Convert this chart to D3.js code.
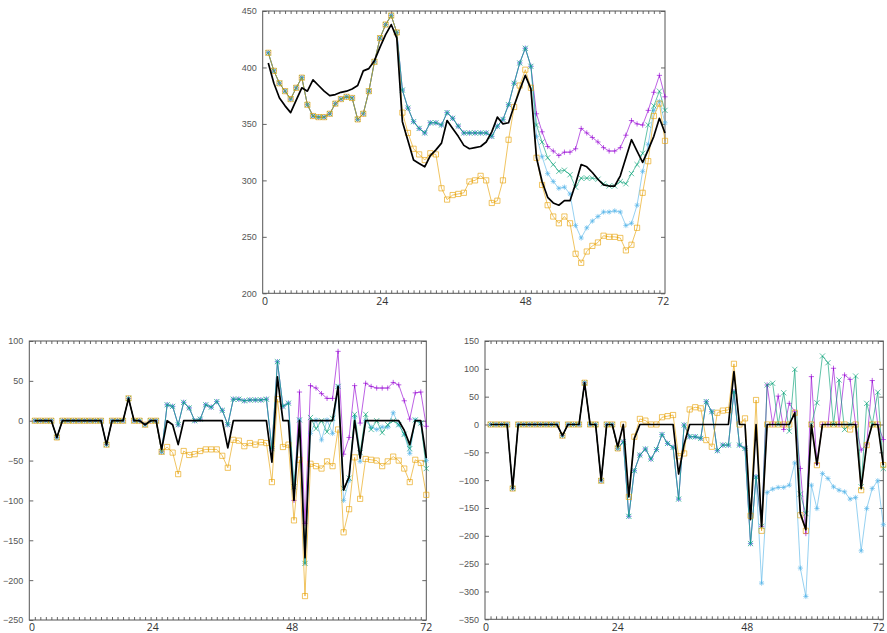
<!DOCTYPE html>
<html><head><meta charset="utf-8">
<script src="https://cdn.jsdelivr.net/npm/d3@7"></script>
<style>body{margin:0;background:#fff} svg{display:block}</style>
</head><body>
<svg id="c" width="887" height="633"></svg>
<script>
// ---------- data (index 1..72) ----------
const xTickLabels = ["0","24","48","72"];

const topYTicks = [200,250,300,350,400,450];
const topPurple = [413,397,386,379,372,382,391,367,357,356,356,359,368,372,374,373,354,359,379,405,426,438,446,431,
  380,364,352,346,342,351,351,349,360,355,348,342,342,342,342,342,339,348,354,367,386,404,417,401,
  359,343,330,326,322,325,325,328,346,342,338,334,329,326,326,329,340,353,350,349,362,378,393,374];
const topGreen = [413,397,386,379,372,382,391,367,357,356,356,359,368,372,374,373,354,359,379,405,426,438,446,431,
  380,364,352,346,342,351,351,349,360,355,348,342,342,342,342,342,339,348,354,367,386,404,417,401,
  349,334,320,314,308,309,305,294,302,302,302,301,297,295,295,299,297,306,314,324,349,366,379,362];
const topBlue = [413,397,386,379,372,382,391,367,357,356,356,359,368,372,374,373,354,359,379,405,426,438,446,431,
  380,364,352,346,342,351,351,349,360,355,348,342,342,342,342,342,339,348,354,367,386,404,417,401,
  339,321,306,299,293,294,288,260,249,258,264,268,272,272,273,272,260,262,278,308,332,362,370,351];
const topOrange = [413,397,386,379,372,382,391,367,357,356,356,359,368,372,374,373,354,359,379,405,426,438,446,431,
  360,342,328,323,318,324,323,293,283,287,288,289,299,300,304,300,280,282,300,336,365,384,398,382,
  320,296,278,268,262,268,262,235,227,237,242,245,251,250,250,249,238,243,258,289,317,357,368,335];
const topBlack = [404,386,373,366,360,371,382,379,389,384,379,375,376,378,379,381,384,397,399,406,418,429,438,426,
  352,335,318,315,312,322,327,333,353,346,339,331,328,329,330,334,343,356,350,351,366,380,393,381,
  320,299,285,280,278,282,282,297,314,312,307,301,296,295,295,304,320,336,326,316,327,339,355,342];

const blYTicks = [-250,-200,-150,-100,-50,0,50,100];
const blPurple = [0,0,0,0,-21,0,0,0,0,0,0,0,0,-30,0,0,0,28,0,0,-5,0,0,-39,
  20,18,-5,23,16,0,2,20,17,24,13,-5,27,27,25,26,26,26,27,-35,74,18,22,
  -100,36,-129,44,41,34,28,28,87,-42,-21,44,-3,47,43,41,41,41,48,45,25,2,35,36,-7];
const blGreen = [0,0,0,0,-21,0,0,0,0,0,0,0,0,-30,0,0,0,28,0,0,-5,0,0,-39,
  20,18,-5,23,16,0,2,20,17,24,13,-5,27,27,25,26,26,26,27,-35,74,18,22,
  -83,1,-179,4,-10,0,-14,3,43,-85,-72,8,-40,8,-11,0,-15,-5,0,-5,-17,-35,1,-3,-60];
const blBlue = [0,0,0,0,-21,0,0,0,0,0,0,0,0,-30,0,0,0,28,0,0,-5,0,0,-39,
  20,18,-5,23,16,0,2,20,17,24,13,-5,27,27,25,26,26,26,27,-35,74,18,22,
  -83,1,-179,-16,1,-24,1,-16,43,-100,-75,5,-51,0,-8,-11,-8,-8,10,-5,-17,-41,1,-3,-50];
const blOrange = [0,0,0,0,-21,0,0,0,0,0,0,0,0,-30,0,0,0,28,0,0,-5,0,0,-39,
  -33,-40,-67,-38,-43,-42,-38,-36,-36,-36,-44,-59,-24,-25,-32,-28,-30,-27,-28,-77,27,-33,-30,
  -125,-49,-220,-54,-57,-60,-51,-57,-11,-140,-111,-46,-98,-48,-49,-50,-57,-51,-45,-50,-60,-77,-49,-53,-93];
const blBlack = [0,0,0,0,-21,0,0,0,0,0,0,0,0,-30,0,0,0,28,0,0,-5,0,0,-36,
  0,-5,-30,0,0,0,0,0,0,0,0,-34,0,0,0,0,0,0,0,-52,55,0,0,
  -100,0,-172,0,0,0,0,0,43,-87,-70,0,-47,0,0,0,0,0,0,0,-12,-30,0,0,-47];

const brYTicks = [-350,-300,-250,-200,-150,-100,-50,0,50,100,150];
const brPurple = [0,0,0,0,-115,0,0,0,0,0,0,0,0,-20,0,0,0,75,0,0,-101,0,0,-43,
  -31,-165,-83,-55,-44,-62,-45,-18,-34,-41,-134,-1,-22,-22,-25,41,23,-47,-37,-37,59,-37,-43,-214,
  -94,-183,71,0,51,-9,38,23,-79,-196,86,-70,0,0,101,0,89,81,0,-46,-35,79,0,-27];
const brGreen = [0,0,0,0,-115,0,0,0,0,0,0,0,0,-20,0,0,0,75,0,0,-101,0,0,-43,
  -31,-165,-83,-55,-44,-62,-45,-18,-34,-41,-134,-1,-22,-22,-25,41,23,-47,-37,-37,59,-37,-43,-214,
  -94,-183,71,74,0,57,-12,99,-125,-160,0,39,123,111,0,80,-9,0,87,-112,38,0,58,-79];
const brBlue = [0,0,0,0,-115,0,0,0,0,0,0,0,0,-20,0,0,0,75,0,0,-101,0,0,-43,
  -31,-165,-83,-55,-44,-62,-45,-18,-34,-41,-134,-1,-22,-22,-25,41,23,-47,-37,-37,59,-37,-43,-214,
  -94,-285,-122,-116,-113,-113,-109,-69,-258,-309,-109,-151,-88,-97,-112,-118,-121,-134,-131,-227,-151,-115,-101,-180];
const brOrange = [0,0,0,0,-115,0,0,0,0,0,0,0,0,-20,0,0,0,75,0,0,-101,0,0,-43,
  0,-130,-22,10,7,0,0,13,15,17,-57,-52,27,31,29,-28,-40,21,25,26,109,0,11,-164,
  44,-191,0,0,0,0,0,21,-163,-191,0,-73,0,0,0,0,0,-9,0,-118,-37,0,0,-73];
const brBlack = [0,0,0,0,-115,0,0,0,0,0,0,0,0,-20,0,0,0,75,0,0,-101,0,0,-40,
  0,-130,-25,0,0,0,0,0,0,0,-89,-35,0,0,0,0,0,0,0,0,95,0,0,-171,
  0,-183,0,0,0,0,0,21,-160,-189,0,-72,0,0,0,0,0,0,0,-115,-36,0,0,-73];

// ---------- layout ----------
const panels = [
  {l:262.7, r:665, t:11, b:293.3, yd:[200,450], yTicks:topYTicks, xLabelAt:[0.3,21.3,47.0,71.6],
   s:[topPurple,topGreen,topBlue,topOrange], k:topBlack},
  {l:29.3, r:426.3, t:341, b:620, yd:[-250,100], yTicks:blYTicks, xLabelAt:[0.4,22.3,47.6,71.9],
   s:[blPurple,blGreen,blBlue,blOrange], k:blBlack},
  {l:485, r:883.3, t:341, b:619.3, yd:[-350,150], yTicks:brYTicks, xLabelAt:[0.1,23.9,47.3,71.1],
   s:[brPurple,brGreen,brBlue,brOrange], k:brBlack}
];
const colors = ['#9400d3','#009e73','#56b4e9','#e69f00'];
const drawOrder = [0,2,1,3];
const m = 2.6;
const markerPaths = [
  `M${-m},0H${m}M0,${-m}V${m}`,
  `M${-m},${-m}L${m},${m}M${-m},${m}L${m},${-m}`,
  `M${-m},0H${m}M0,${-m}V${m}M${-m*0.75},${-m*0.75}L${m*0.75},${m*0.75}M${-m*0.75},${m*0.75}L${m*0.75},${-m*0.75}`,
  `M${-m},${-m}H${m}V${m}H${-m}Z`
];

const svg = d3.select('#c');

panels.forEach(p => {
  const x = d3.scaleLinear().domain([0,72]).range([p.l, p.r]);
  const y = d3.scaleLinear().domain(p.yd).range([p.b, p.t]);
  const g = svg.append('g');

  const minor = d3.range(1,72);
  g.append('g').attr('transform',`translate(0,${p.b})`)
    .call(d3.axisTop(x).tickValues(minor).tickSize(3).tickSizeOuter(0).tickFormat(''))
    .call(a=>{a.select('.domain').remove(); a.selectAll('line').attr('stroke','#666');});
  g.append('g').attr('transform',`translate(0,${p.t})`)
    .call(d3.axisBottom(x).tickValues(minor).tickSize(3).tickSizeOuter(0).tickFormat(''))
    .call(a=>{a.select('.domain').remove(); a.selectAll('line').attr('stroke','#666');});
  g.append('g').attr('transform',`translate(${p.l},0)`)
    .call(d3.axisRight(y).tickValues(p.yTicks).tickSize(4).tickSizeOuter(0).tickFormat(''))
    .call(a=>{a.select('.domain').remove(); a.selectAll('line').attr('stroke','#666');});
  g.append('g').attr('transform',`translate(${p.r},0)`)
    .call(d3.axisLeft(y).tickValues(p.yTicks).tickSize(4).tickSizeOuter(0).tickFormat(''))
    .call(a=>{a.select('.domain').remove(); a.selectAll('line').attr('stroke','#666');});

  g.append('g').attr('transform',`translate(0,${p.b})`)
    .call(d3.axisBottom(x).tickValues(p.xLabelAt).tickSize(0).tickPadding(4).tickFormat((d,i)=>xTickLabels[i]))
    .call(a=>{a.select('.domain').remove(); a.selectAll('text').attr('font-family','"Open Sans",sans-serif')
      .attr('font-size',10.5).attr('fill','#333');});
  g.append('g').attr('transform',`translate(${p.l},0)`)
    .call(d3.axisLeft(y).tickValues(p.yTicks).tickSize(0).tickPadding(6))
    .call(a=>{a.select('.domain').remove(); a.selectAll('text').attr('font-family','"Liberation Sans",Arial,sans-serif')
      .attr('font-size',9).attr('fill','#555');});

  g.append('rect').attr('x',p.l).attr('y',p.t).attr('width',p.r-p.l).attr('height',p.b-p.t)
    .attr('fill','none').attr('stroke','#555').attr('stroke-width',1);

  const line = d3.line().x((d,i)=>x(i+1)).y(d=>y(d));
  drawOrder.forEach(si=>{
    const arr = p.s[si];
    const sg = g.append('g').attr('stroke',colors[si]).attr('stroke-opacity',0.62).attr('fill','none');
    sg.append('path').datum(arr).attr('d',line).attr('stroke-width',1);
    sg.selectAll('path.mk').data(arr).join('path').attr('class','mk')
      .attr('transform',(d,i)=>`translate(${x(i+1)},${y(d)})`)
      .attr('d',markerPaths[si]).attr('stroke-width',1);
  });
  g.append('path').datum(p.k).attr('d',line).attr('fill','none').attr('stroke','#000').attr('stroke-width',1.7)
    .attr('stroke-linejoin','round');
});
</script>
</body></html>
